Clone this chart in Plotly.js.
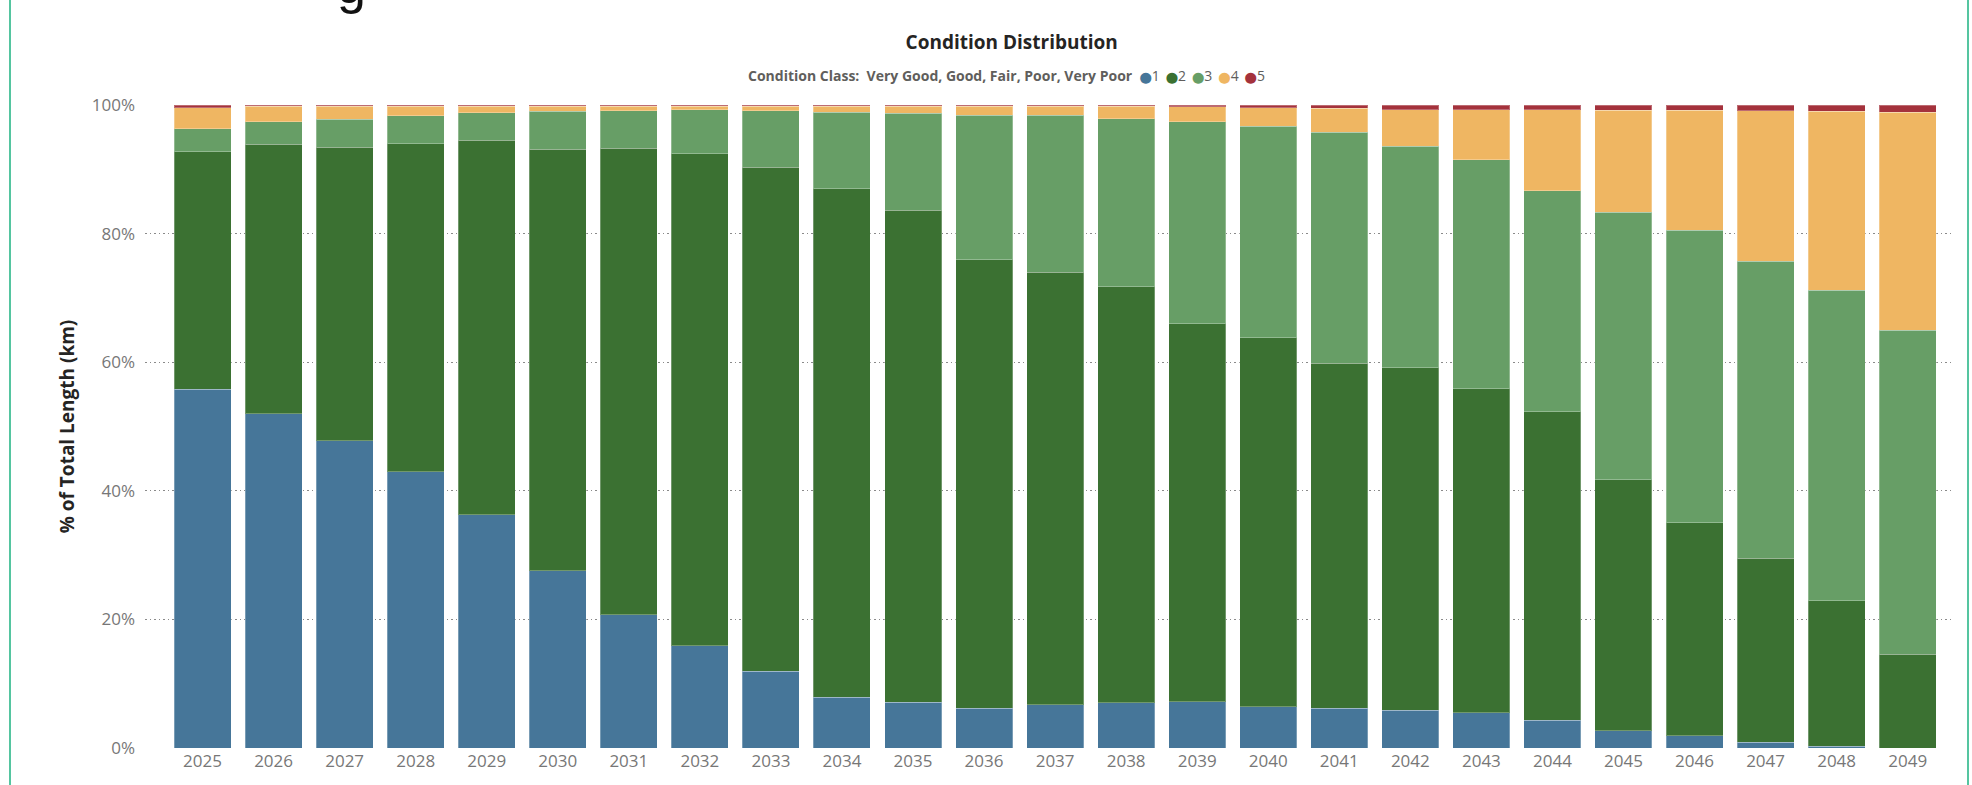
<!DOCTYPE html>
<html>
<head>
<meta charset="utf-8">
<script src="https://cdn.plot.ly/plotly-3.0.1.min.js"></script>
<style>
  html, body { margin: 0; padding: 0; background: #ffffff; overflow: hidden; }
  #wrap { position: relative; width: 1972px; height: 785px; }
  #chart { position: absolute; left: 0; top: 0; width: 1972px; height: 785px; }
  #frame { position: absolute; left: 9px; top: -30px; width: 1956px; height: 900px;
           border-left: 2px solid #55C5A0; border-right: 2px solid #55C5A0; pointer-events: none; }
</style>
</head>
<body>
<div id="wrap">
  <div id="chart"></div>
  <div id="frame"></div>
</div>
<script>
// ---- data (percent of total length, km) ----
const years = ['2025','2026','2027','2028','2029','2030','2031','2032','2033','2034','2035','2036','2037',
               '2038','2039','2040','2041','2042','2043','2044','2045','2046','2047','2048','2049'];
const classNames = ['1', '2', '3', '4', '5'];
const veryGood = [55.8, 52.0, 47.8, 43.0, 36.3, 27.6, 20.7, 15.9, 11.9, 7.9, 7.1, 6.2, 6.7,
                  7.0, 7.2, 6.4, 6.2, 5.9, 5.5, 4.3, 2.7, 1.9, 0.9, 0.3, 0.0];
const good     = [36.9, 41.9, 45.6, 51.0, 58.2, 65.5, 72.6, 76.5, 78.4, 79.1, 76.5, 69.7, 67.3,
                  64.7, 58.8, 57.4, 53.6, 53.2, 50.4, 48.0, 39.0, 33.1, 28.6, 22.6, 14.6];
const fair     = [3.6, 3.5, 4.4, 4.3, 4.3, 5.9, 5.8, 6.9, 8.8, 11.9, 15.1, 22.5, 24.4,
                  26.2, 31.4, 32.9, 36.0, 34.5, 35.6, 34.4, 41.6, 45.5, 46.2, 48.3, 50.4];
const poor     = [3.3, 2.4, 2.0, 1.5, 1.0, 0.8, 0.7, 0.5, 0.7, 0.9, 1.1, 1.4, 1.4,
                  1.9, 2.3, 2.9, 3.7, 5.7, 7.8, 12.6, 15.9, 18.7, 23.4, 27.8, 33.9];
const veryPoor = [0.4, 0.2, 0.2, 0.2, 0.2, 0.2, 0.2, 0.2, 0.2, 0.2, 0.2, 0.2, 0.2,
                  0.2, 0.3, 0.4, 0.5, 0.7, 0.7, 0.7, 0.8, 0.8, 0.9, 1.0, 1.1];
const yTicks = [0, 20, 40, 60, 80, 100];

const colors = ['#467699', '#3B7132', '#679E66', '#EFB662', '#A4323C'];
const series = [veryGood, good, fair, poor, veryPoor];

const FONT = '"Segoe UI", "Open Sans", "Noto Sans", sans-serif';

const traces = series.map((vals, i) => ({
  type: 'bar',
  name: classNames[i],
  x: years,
  y: vals,
  marker: { color: colors[i], line: { width: 1, color: 'rgba(255,255,255,0.28)' } },
  hovertemplate: '%{x}: %{y:.1f}%<extra>' + classNames[i] + '</extra>'
}));

const legendText =
  '<b>Condition Class:\u00a0\u00a0Very Good, Good, Fair, Poor, Very Poor</b>\u00a0\u00a0' +
  classNames.map((n, i) => '<span style="color:' + colors[i] +
    ';font-family:DejaVu Sans;font-size:11px">\u2B24</span>' + n).join('\u00a0\u2009');

const layout = {
  width: 1972,
  height: 785,
  paper_bgcolor: '#ffffff',
  plot_bgcolor: '#ffffff',
  margin: { l: 145, r: 21, t: 105, b: 37, pad: 0 },
  barmode: 'stack',
  bargap: 0.198,
  showlegend: false,
  font: { family: FONT, color: '#777777', size: 17 },
  title: {
    text: '<b>Condition Distribution</b>',
    font: { family: FONT, size: 19, color: '#252423' },
    x: 0.513, xref: 'container', xanchor: 'center',
    y: 1 - 42 / 785, yref: 'container', yanchor: 'middle'
  },
  xaxis: {
    type: 'category',
    range: [-0.81, 24.61],
    showgrid: false,
    zeroline: false,
    showline: false,
    ticks: '',
    tickfont: { family: FONT, size: 17, color: '#777777' },
    ticklabelstandoff: 1,
    fixedrange: true
  },
  yaxis: {
    range: [0, 100],
    tickvals: yTicks,
    ticktext: yTicks.map(v => v + '%'),
    showgrid: true,
    gridcolor: '#8a8a8a',
    griddash: '1.5px,3px',
    gridwidth: 1,
    zeroline: false,
    showline: false,
    ticks: '',
    ticklabelstandoff: 9,
    tickfont: { family: FONT, size: 17, color: '#777777' },
    title: {
      text: '<b>% of Total Length (km)</b>',
      font: { family: FONT, size: 19, color: '#252423' },
      standoff: 12
    },
    automargin: false,
    fixedrange: true
  },
  annotations: [
    {
      text: legendText,
      xref: 'paper', yref: 'paper',
      x: 0.477, y: 1 + (105 - 76) / 642.7,
      xanchor: 'center', yanchor: 'middle',
      showarrow: false,
      font: { family: FONT, size: 14, color: '#605E5C' }
    },
    {
      text: 'g',
      xref: 'paper', yref: 'paper',
      x: (351 - 145) / 1806, y: 1 + (105 - 16) / 642.7,
      xanchor: 'center', yanchor: 'bottom',
      showarrow: false,
      font: { family: '"Liberation Sans", Arial, sans-serif', size: 52, color: '#111111' }
    }
  ]
};

Plotly.newPlot('chart', traces, layout, { displayModeBar: false, staticPlot: true });
</script>
</body>
</html>
